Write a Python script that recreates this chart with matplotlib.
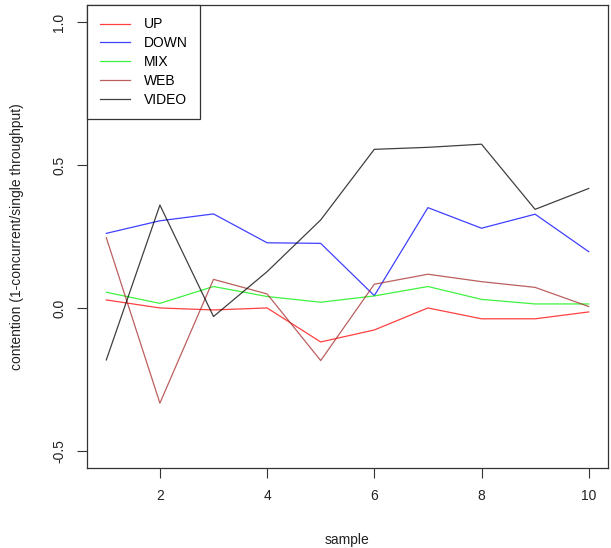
import matplotlib
matplotlib.use("Agg")
import matplotlib.pyplot as plt
import numpy as np

# contention per sample, one series per traffic type
sample = np.arange(1, 11)
up = [0.028, 0.0, -0.007, 0.0, -0.119, -0.077, 0.0, -0.038, -0.038, -0.014]
down = [0.261, 0.305, 0.329, 0.228, 0.226, 0.043, 0.351, 0.279, 0.328, 0.197]
mix = [0.055, 0.016, 0.075, 0.040, 0.020, 0.042, 0.075, 0.030, 0.014, 0.014]
web = [0.246, -0.333, 0.100, 0.049, -0.184, 0.083, 0.118, 0.092, 0.072, 0.005]
video = [-0.182, 0.360, -0.030, 0.127, 0.308, 0.555, 0.562, 0.573, 0.345, 0.418]

names = ["UP", "DOWN", "MIX", "WEB", "VIDEO"]
series = [up, down, mix, web, video]
colors = ["#ff0000", "#0000ff", "#00ee00", "#a52a2a", "#000000"]

plt.rcParams["font.family"] = ["Liberation Sans", "DejaVu Sans"]

fig = plt.figure(figsize=(6.11, 5.48), dpi=100)
ax = fig.add_axes([87 / 611, 80 / 548, 521 / 611, 463 / 548])

for vals, col, name in zip(series, colors, names):
    ax.plot(sample, vals, color=col, linewidth=0.9, alpha=0.75, label=name)

ax.set_xlim(0.64, 10.36)
ax.set_ylim(-0.56, 1.06)
ax.set_xticks([2, 4, 6, 8, 10])
ax.set_yticks([-0.5, 0.0, 0.5, 1.0])
ax.set_yticklabels(["-0.5", "0.0", "0.5", "1.0"], rotation=90, va="center")
ax.tick_params(direction="out", length=7, width=0.8, colors="#333333",
               labelsize=10, labelcolor="#222222", pad=8)
for sp in ax.spines.values():
    sp.set_color("#333333")
    sp.set_linewidth(0.9)

ax.set_xlabel("sample", fontsize=10, color="#222222", labelpad=22)
ax.set_ylabel("contention (1-concurrent/single throughput)", fontsize=10,
              color="#222222", labelpad=20)

leg = ax.legend(loc="upper left", bbox_to_anchor=(0, 1), borderaxespad=0,
                fancybox=False, framealpha=1, edgecolor="#333333",
                fontsize=10, handlelength=2.2, labelspacing=0.35,
                borderpad=0.9, handletextpad=1.0)
leg.get_frame().set_linewidth(0.9)

fig.savefig("out.png", dpi=100)
